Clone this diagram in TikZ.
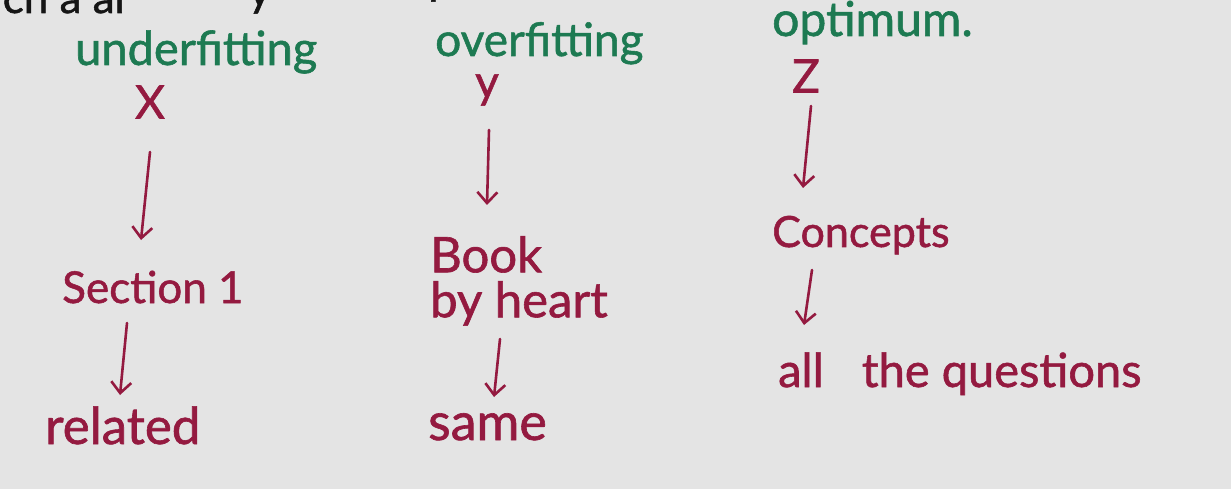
\documentclass[tikz,border=0pt]{standalone}
\usepackage{fontspec}
\setmainfont{Lato}[FakeBold=1.2]
\usetikzlibrary{arrows.meta}
\definecolor{bg}{HTML}{E4E4E4}
\definecolor{ink}{HTML}{941A40}
\definecolor{grn}{HTML}{1D7A52}
\definecolor{blk}{HTML}{151515}
\newcommand{\fsz}[1]{\fontsize{#1}{#1}\selectfont}
\tikzset{
  x=1pt, y=-1pt,
  txt/.style={anchor=base west, inner sep=0pt, text=ink, font=\fsz{46}},
  head/.style={anchor=base west, inner sep=0pt, text=grn, font=\fsz{47}},
  var/.style={anchor=center, inner sep=0pt, text=ink, font=\fsz{46}},
  top/.style={anchor=base west, inner sep=0pt, text=blk, font=\fsz{44}},
  arr/.style={draw=ink, line width=2.6pt, line cap=round, -{Straight Barb[length=11pt,width=20pt,line width=2.6pt]}}
}
\begin{document}
\begin{tikzpicture}
\useasboundingbox (0,0) rectangle (1231,489);
\fill[bg] (0,0) rectangle (1231,489);
\begin{scope}
\clip (0,0) rectangle (1231,489);
\node[top] (t1) at (-8,13) {ich a ar};
\node[top] (t2) at (248,6) {y};
\node[top] (t3) at (428,-6) {p};
\node[top] (t4) at (612,-14) {g};
\end{scope}
% column 1
\node[head] (h1) at (75,65) {underfitting};
\node[var] (v1) at (150,102) {X};
\node[txt, font=\fsz{44}] (s1) at (62,303) {Section 1};
\node[txt, font=\fsz{51}] (r1) at (45,444) {related};
% column 2
\node[head, font=\fsz{46}] (h2) at (435,56) {overfitting};
\node[var] (v2) at (487,90) {y};
\node[txt, anchor=north west, align=left, font={\fontsize{49}{45}\selectfont}] (b2) at (430,236) {Book\\by heart};
\node[txt, font=\fsz{52}] (r2) at (428,440) {same};
% column 3
\node[head, font=\fsz{48}] (h3) at (772,36) {optimum.};
\node[var] (v3) at (806,76) {Z};
\node[txt, font=\fsz{43}] (c3) at (772,247) {Concepts};
\node[txt, font=\fsz{47}] (q3) at (778,387) {all \hspace{26pt}the questions};
% arrows
\coordinate (a1s) at (150,152); \coordinate (a1e) at (141,240);
\coordinate (a2s) at (127,323); \coordinate (a2e) at (120,395);
\coordinate (a3s) at (489,130); \coordinate (a3e) at (487,205);
\coordinate (a4s) at (500,339); \coordinate (a4e) at (494,397);
\coordinate (a5s) at (811,106); \coordinate (a5e) at (803,188);
\coordinate (a6s) at (812,270); \coordinate (a6e) at (804,325);
\draw[arr] (a1s) -- (a1e);
\draw[arr] (a2s) -- (a2e);
\draw[arr] (a3s) -- (a3e);
\draw[arr] (a4s) -- (a4e);
\draw[arr] (a5s) -- (a5e);
\draw[arr] (a6s) -- (a6e);
\end{tikzpicture}
\end{document}
